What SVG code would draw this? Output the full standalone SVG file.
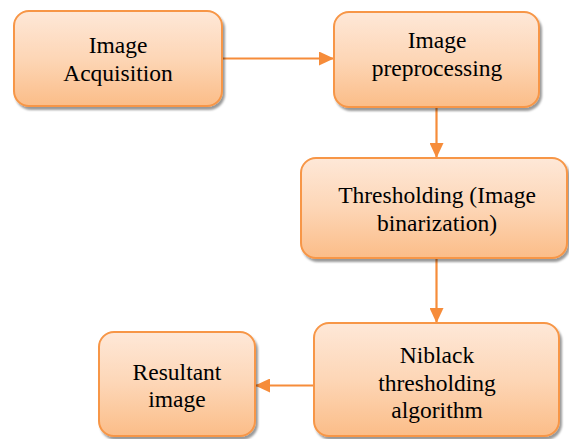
<svg xmlns="http://www.w3.org/2000/svg" width="569" height="439" viewBox="0 0 569 439">
  <defs>
    <linearGradient id="boxFill" x1="0" y1="0" x2="0" y2="1">
      <stop offset="0" stop-color="#FEE8D8"/>
      <stop offset="0.5" stop-color="#FDD6B6"/>
      <stop offset="1" stop-color="#FBBD88"/>
    </linearGradient>
    <filter id="shadow" x="-10%" y="-10%" width="125%" height="130%">
      <feGaussianBlur in="SourceAlpha" stdDeviation="0.8"/>
      <feOffset dx="2" dy="3" result="b"/>
      <feFlood flood-color="#000" flood-opacity="0.4"/>
      <feComposite in2="b" operator="in"/>
      <feMerge>
        <feMergeNode/>
        <feMergeNode in="SourceGraphic"/>
      </feMerge>
    </filter>
    <marker id="arrow" viewBox="0 0 15 14" refX="15" refY="7" markerWidth="15" markerHeight="14" markerUnits="userSpaceOnUse" orient="auto">
      <path d="M0,0 L15,7 L0,14 Z" fill="#F68C3A"/>
    </marker>
  </defs>
  <style>
    .box { fill: url(#boxFill); stroke: #F79646; stroke-width: 2; filter: url(#shadow); }
    .label { font-family: "Liberation Serif", "Times New Roman", serif; font-size: 23.5px; fill: #000; text-anchor: middle; }
    .conn { stroke: #F68C3A; stroke-width: 2.2; fill: none; marker-end: url(#arrow); }
  </style>

  <g id="connectors">
    <line class="conn" x1="222" y1="58.5" x2="334" y2="58.5"/>
    <line class="conn" x1="436.5" y1="107" x2="436.5" y2="158"/>
    <line class="conn" x1="436.5" y1="258" x2="436.5" y2="323"/>
    <line class="conn" x1="314" y1="385.5" x2="255" y2="385.5"/>
  </g>

  <g id="acquisition">
    <rect class="box" x="14" y="11" width="208" height="95" rx="15"/>
    <text class="label" x="118" y="53">Image</text>
    <text class="label" x="118" y="81">Acquisition</text>
  </g>

  <g id="preprocessing">
    <rect class="box" x="334" y="12" width="205" height="95" rx="15"/>
    <text class="label" x="437" y="48">Image</text>
    <text class="label" x="437" y="76">preprocessing</text>
  </g>

  <g id="thresholding">
    <rect class="box" x="301" y="158" width="266" height="100" rx="15"/>
    <text class="label" x="437" y="203">Thresholding (Image</text>
    <text class="label" x="437" y="231">binarization)</text>
  </g>

  <g id="niblack">
    <rect class="box" x="314" y="323" width="245" height="113" rx="15"/>
    <text class="label" x="437" y="363">Niblack</text>
    <text class="label" x="437" y="391">thresholding</text>
    <text class="label" x="437" y="418">algorithm</text>
  </g>

  <g id="result">
    <rect class="box" x="99" y="332" width="156" height="104" rx="15"/>
    <text class="label" x="177" y="380">Resultant</text>
    <text class="label" x="177" y="407">image</text>
  </g>
</svg>
